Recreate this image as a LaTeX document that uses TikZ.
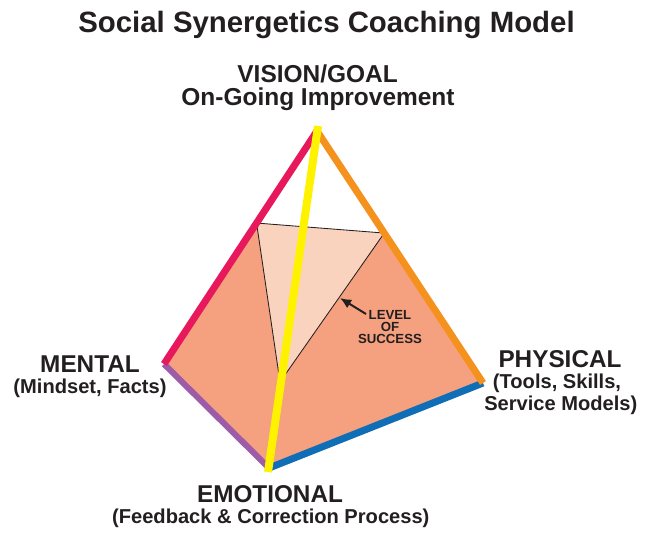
\documentclass[tikz,border=0pt]{standalone}
\usepackage{fontspec}
\setmainfont{Liberation Sans}
\usepackage{tikz}
\usetikzlibrary{arrows.meta,calc,positioning}

\definecolor{edgepink}{HTML}{E8185C}
\definecolor{edgeorange}{HTML}{F5921E}
\definecolor{edgepurple}{HTML}{9E5BA8}
\definecolor{edgeblue}{HTML}{0F6EB5}
\definecolor{edgeyellow}{HTML}{FFF200}
\definecolor{salmon}{HTML}{F5A07E}
\definecolor{paleface}{HTML}{FAD3BF}
\definecolor{ink}{HTML}{231F20}

\begin{document}
\begin{tikzpicture}[
        label main/.style={anchor=base,text=ink,font=\bfseries\fontsize{17.3}{19}\selectfont},
        label sub/.style={anchor=base,text=ink,font=\bfseries\fontsize{14.3}{16}\selectfont},
        edge/.style={line width=5pt},
        thin edge/.style={line width=0.6pt,color=ink}
    ]
            \useasboundingbox (0,0) rectangle (16.425,-13.35);

            % corners of the pyramid
            \coordinate (vision) at (7.925,-3.275);
            \coordinate (mental) at (4.1,-9.1);
            \coordinate (emotional) at (6.725,-11.7);
            \coordinate (physical) at (12.075,-9.575);
            \coordinate (ytop) at (7.95,-3.15);
            \coordinate (ybot) at (6.7,-11.8);

            % level of success triangle
            \coordinate (lvla) at ($(mental)!0.605!(vision)$);
            \coordinate (lvlb) at ($(vision)!0.405!(physical)$);
            \coordinate (lvlc) at (7.0,-9.55);

            \fill[salmon] (mental)
                -- (lvla)
                -- (lvlb)
                -- (physical)
                -- (emotional)
                -- cycle;
            \fill[paleface] (lvla) -- (lvlb) -- (lvlc) -- cycle;
            \draw[thin edge] (lvla) -- (lvlb) -- (lvlc) -- cycle;

            \draw[edge,edgepurple,line width=4.3pt] (mental) -- (emotional);
            \draw[edge,edgeblue] (emotional) -- (physical);
            \draw[edge,edgepink] (mental) -- (vision);
            \draw[edge,edgeorange] (vision) -- (physical);
            \draw[edge,edgeyellow,line width=5.7pt] (ytop) -- (ybot);

            % labels
            \node[anchor=base,text=ink,font=\bfseries\fontsize{20.9}{24}\selectfont]
                (title) at (8.1625,-0.8) {Social Synergetics Coaching Model};
            \node[label main,font=\bfseries\fontsize{17.4}{20}\selectfont]
                (goal) at (7.94,-2.05) {VISION/GOAL};
            \node[label main,font=\bfseries\fontsize{17.4}{20}\selectfont]
                (goalsub) at (7.95,-2.64) {On-Going Improvement};
            \node[label main] (mentaltxt) at (2.25,-9.3) {MENTAL};
            \node[label sub] (mentalsub) at (2.25,-9.825) {(Mindset, Facts)};
            \node[label main] (physicaltxt) at (14.0,-9.175) {PHYSICAL};
            \node[label sub] (physicalsub) at (13.925,-9.7) {(Tools, Skills,};
            \node[label sub] (physicalsubb) at (14.02,-10.25) {Service Models)};
            \node[label main] (emotionaltxt) at (6.75,-12.55) {EMOTIONAL};
            \node[label sub] (emotionalsub) at (6.77,-13.075) {(Feedback \& Correction Process)};

            \node[text=ink,align=center,font=\bfseries\fontsize{9.4}{8.5}\selectfont]
                (success) at (9.75,-8.175) {LEVEL\\OF\\SUCCESS};
            \coordinate (tip) at (8.5,-7.45);
            \coordinate (tail) at (9.15,-7.85);
            \draw[ink,line width=1.4pt,-{Latex[length=8pt,width=7pt]}] (tail) -- (tip);
        \end{tikzpicture}
\end{document}
